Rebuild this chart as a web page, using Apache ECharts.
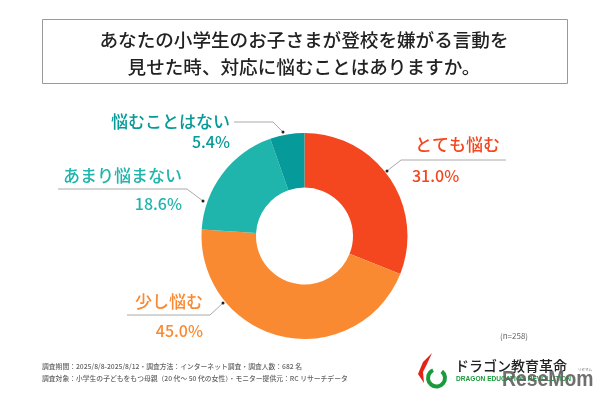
<!DOCTYPE html>
<html>
<head>
<meta charset="utf-8">
<style>
html, body { margin: 0; padding: 0; background: #fff; }
#chart_container { width: 610px; height: 400px; }
</style>
<script src="https://cdn.jsdelivr.net/npm/echarts@6/dist/echarts.min.js"></script>
</head>
<body>
<div id="chart_container"></div>
<script>
var categories = ['とても悩む', '少し悩む', 'あまり悩まない', '悩むことはない'];
var values = [31.0, 45.0, 18.6, 5.4];
var colors = ['#F4471F', '#FA8A32', '#20B5AC', '#069A9A'];
var titleLines = ['あなたの小学生のお子さまが登校を嫌がる言動を', '見せた時、対応に悩むことはありますか。'];
var footLines = [
    '調査期間：2025/8/8-2025/8/12・調査方法：インターネット調査・調査人数：682 名',
    '調査対象：小学生の子どもをもつ母親（20 代～ 50 代の女性）・モニター提供元：RC リサーチデータ'
];
var sampleNote = '(n=258)';

var font = '"Noto Sans CJK JP", sans-serif';
var myChart = echarts.init(document.getElementById('chart_container'));

// ラベルの配置
function sliceLabel(i, tx, ty, vx, vy, line, align) {
    var dot = line[line.length - 1];
    return [
        {type: 'text', x: tx, y: ty, style: {text: categories[i], font: '500 17px ' + font, fill: colors[i], align: align, verticalAlign: 'middle'}},
        {type: 'text', x: vx, y: vy, style: {text: values[i].toFixed(1) + '%', font: '500 16px ' + font, fill: colors[i], align: align, verticalAlign: 'middle'}},
        {type: 'polyline', shape: {points: line}, style: {stroke: '#aaa', lineWidth: 1, fill: null}},
        {type: 'circle', shape: {cx: dot[0], cy: dot[1], r: 1.5}, style: {fill: '#222'}}
    ];
}

var graphics = [
    {type: 'rect', shape: {x: 42.5, y: 19.5, width: 525, height: 64}, style: {fill: '#fff', stroke: '#999', lineWidth: 1}},
    {type: 'text', x: 304, y: 40, style: {text: titleLines[0], font: '500 18.6px ' + font, fill: '#222', align: 'center', verticalAlign: 'middle'}},
    {type: 'text', x: 304, y: 67, style: {text: titleLines[1], font: '500 18.6px ' + font, fill: '#222', align: 'center', verticalAlign: 'middle'}},
    {type: 'text', x: 42, y: 366, style: {text: footLines[0], font: '500 6.8px ' + font, fill: '#666', verticalAlign: 'middle'}},
    {type: 'text', x: 42, y: 378, style: {text: footLines[1], font: '500 6.8px ' + font, fill: '#666', verticalAlign: 'middle'}},
    {type: 'text', x: 500, y: 336, style: {text: sampleNote, font: '8px ' + font, fill: '#666', verticalAlign: 'middle'}},
    // ロゴ
    {type: 'arc', shape: {cx: 436.5, cy: 378, r: 8.5, startAngle: -0.9, endAngle: 4.3}, style: {stroke: '#1B9A3C', lineWidth: 4, fill: null}},
    {type: 'polygon', shape: {points: [[432, 353], [423, 362], [418, 374], [424, 383], [423, 372], [427, 364]]}, style: {fill: '#E2231A'}},
    {type: 'text', x: 455, y: 366, style: {text: 'ドラゴン教育革命', font: '500 14px ' + font, fill: '#222', verticalAlign: 'middle'}},
    {type: 'text', x: 456, y: 379, style: {text: 'DRAGON EDUCATION REVOLUTION', font: '700 6.6px "Liberation Sans", sans-serif', fill: '#1B9A3C', verticalAlign: 'middle'}},
    {type: 'text', x: 502, y: 380, scaleX: 0.88, style: {text: 'ReseMom', font: '700 22px "Liberation Sans", sans-serif', fill: 'rgba(95,95,95,0.9)', verticalAlign: 'middle'}},
    {type: 'text', x: 578, y: 370, style: {text: 'リセマム', font: '3.5px ' + font, fill: '#666', verticalAlign: 'middle'}}
];
graphics = graphics.concat(
    sliceLabel(0, 415, 145, 412, 176, [[506, 160], [401, 160], [387, 171]], 'left'),
    sliceLabel(1, 203, 302, 203, 331, [[127, 315], [210, 315], [223, 303]], 'right'),
    sliceLabel(2, 182, 176, 182, 204, [[58, 189], [187, 189], [203, 201]], 'right'),
    sliceLabel(3, 230, 122, 230, 142, [[234, 122], [273, 122], [283, 132]], 'right')
);

var option = {
    animation: false,
    backgroundColor: '#fff',
    series: [{
        type: 'pie',
        center: [304.5, 236],
        radius: [48.5, 103],
        startAngle: 90,
        silent: true,
        label: {show: false},
        labelLine: {show: false},
        data: categories.map(function (name, i) {
            return {name: name, value: values[i], itemStyle: {color: colors[i]}};
        })
    }],
    graphic: {elements: graphics}
};
myChart.setOption(option);
</script>
</body>
</html>
